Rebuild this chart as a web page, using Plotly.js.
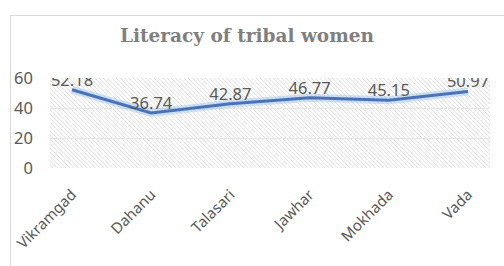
<!DOCTYPE html>
<html><head><meta charset="utf-8">
<script src="https://cdn.plot.ly/plotly-3.0.1.min.js"></script>
<style>
html,body{margin:0;padding:0;background:#fff;width:504px;height:266px;overflow:hidden;}
#frame{position:absolute;left:10px;top:15px;width:494px;height:251px;border-left:1px solid #d9d9d9;border-top:1px solid #d9d9d9;box-sizing:border-box;}
#hatch{position:absolute;background:repeating-linear-gradient(45deg,#ffffff 0px,#ffffff 1.6px,#dcdcdc 2.2px,#ffffff 3px);}
#chart{position:absolute;left:0px;top:0px;width:504px;height:266px;}
</style></head>
<body>
<div id="frame"></div>
<div id="hatch"></div>
<div id="chart"></div>
<script>
const categories = ["Vikramgad","Dahanu","Talasari","Jawhar","Mokhada","Vada"];
const literacy = [52.18, 36.74, 42.87, 46.77, 45.15, 50.97];
const labels = literacy.map(v => v.toFixed(2));

const glow = {x: categories, y: literacy, type: 'scatter', mode: 'lines',
  line: {color: 'rgba(150,190,235,0.45)', width: 8}, hoverinfo: 'skip', showlegend: false};
const main = {x: categories, y: literacy, type: 'scatter', mode: 'lines+text',
  text: labels, textposition: 'top center',
  textfont: {family: 'Noto Sans, sans-serif', size: 16.5, color: '#595959'},
  line: {color: '#4a72b8', width: 3}, showlegend: false};

const layout = {
  width: 504, height: 266,
  margin: {l: 50, r: 14, t: 78, b: 98},
  paper_bgcolor: 'rgba(0,0,0,0)', plot_bgcolor: 'rgba(0,0,0,0)',
  title: {text: 'Literacy of tribal women', x: 0.49, xanchor: 'center', y: 0.868, yanchor: 'middle',
    font: {family: 'DejaVu Serif, serif', size: 18.5, color: '#7f7f7f', weight: 'bold'}},
  xaxis: {tickangle: -45, showgrid: false, zeroline: false, showline: false, ticklabelstandoff: 14,
    tickfont: {family: 'Noto Sans, sans-serif', size: 15, color: '#595959'}},
  yaxis: {range: [0, 60], dtick: 20, showgrid: true, gridcolor: '#e6e6e6', zeroline: false,
    showline: false, ticklabelstandoff: 16,
    tickfont: {family: 'Noto Sans, sans-serif', size: 16.5, color: '#595959'}},
  font: {family: 'Noto Sans, sans-serif'}
};

Plotly.newPlot('chart', [glow, main], layout, {displayModeBar: false, staticPlot: true}).then(gd => {
  const s = gd._fullLayout._size;
  const h = document.getElementById('hatch');
  h.style.left = s.l + 'px';
  h.style.top = s.t + 'px';
  h.style.width = s.w + 'px';
  h.style.height = s.h + 'px';
});
</script>
</body></html>
